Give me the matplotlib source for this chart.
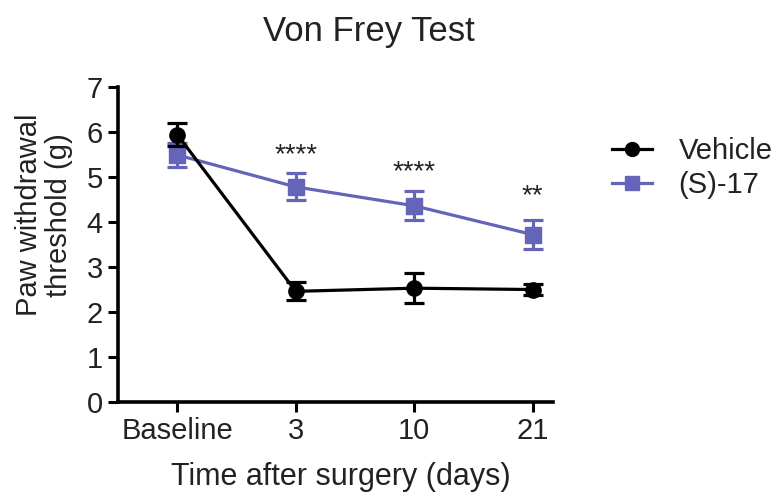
import numpy as np
import matplotlib.pyplot as plt
from matplotlib.lines import Line2D

plt.rcParams['font.family'] = ['Liberation Sans', 'DejaVu Sans']

days = ['Baseline', '3', '10', '21']
vehicle = [5.94, 2.46, 2.53, 2.50]
vehicle_err = [0.26, 0.20, 0.34, 0.12]
s17 = [5.49, 4.78, 4.36, 3.72]
s17_err = [0.27, 0.30, 0.32, 0.32]
stars = ['', '****', '****', '**']
star_y = [0, 5.48, 5.11, 4.58]

blue = '#6464b8'
txt = '#222222'
x = np.arange(len(days))

fig = plt.figure(figsize=(7.82, 4.97), dpi=100)
ax = fig.add_axes([0.151, 0.191, 0.556, 0.634])

ax.errorbar(x, vehicle, yerr=vehicle_err, color='black', marker='o', ms=11,
            lw=2.3, elinewidth=2.3, capsize=7, capthick=2.3, zorder=4)
ax.errorbar(x, s17, yerr=s17_err, color=blue, marker='s', ms=11,
            lw=2.3, elinewidth=2.3, capsize=7, capthick=2.3, zorder=3)

for i in range(len(days)):
    if stars[i]:
        ax.text(x[i], star_y[i], stars[i], ha='center', va='center', fontsize=20, color=txt)

ax.set_xlim(-0.5, 3.17)
ax.set_ylim(0, 7)
ax.set_yticks(range(8))
ax.set_xticks(x)
ax.set_xticklabels(days)
ax.tick_params(labelsize=21, width=2.2, length=7, colors='black', labelcolor=txt, pad=4)
for s in ['top', 'right']:
    ax.spines[s].set_visible(False)
for s in ['left', 'bottom']:
    ax.spines[s].set_linewidth(2.6)

fig.text(44 / 782, 1 - 215 / 497, 'Paw withdrawal\nthreshold (g)', rotation=90,
         ha='center', va='center', multialignment='center', fontsize=21, color=txt,
         linespacing=1.1)
fig.text(341 / 782, 1 - 477 / 497, 'Time after surgery (days)', ha='center', va='center',
         fontsize=22, color=txt)
fig.text(369 / 782, 1 - 31 / 497, 'Von Frey Test', ha='center', va='center',
         fontsize=25, color=txt)

handles = [Line2D([], [], color='black', marker='o', ms=10, lw=2.3),
           Line2D([], [], color=blue, marker='s', ms=10, lw=2.3)]
leg = ax.legend(handles, ['Vehicle', '(S)-17'], loc='upper left', bbox_to_anchor=(1.135, 0.84),
                frameon=False, fontsize=21, handlelength=1.4, handletextpad=0.9,
                labelspacing=0.2, borderaxespad=0, borderpad=0)
for t in leg.get_texts():
    t.set_color(txt)

fig.savefig('out.png', dpi=100)
